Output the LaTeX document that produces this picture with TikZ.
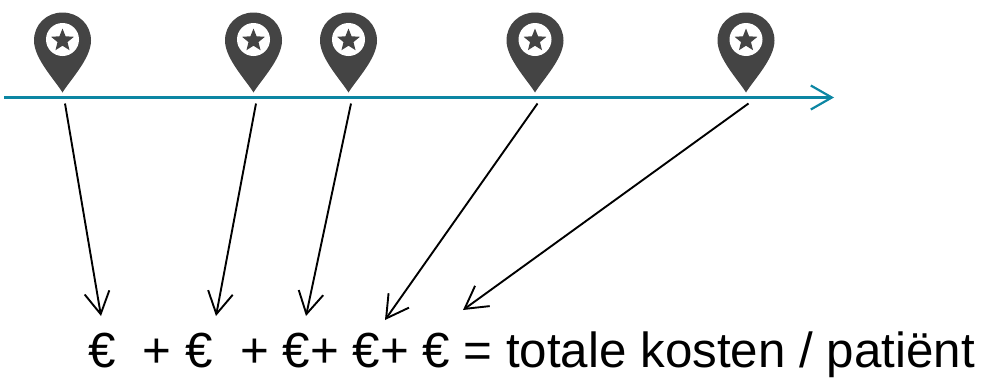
\documentclass[tikz,border=0pt]{standalone}
\usepackage{xcolor}
\usepackage{fontspec}
\setmainfont{Liberation Sans}
\usetikzlibrary{shapes.geometric, arrows.meta}
\definecolor{timeline}{HTML}{0C86A3}
\definecolor{pinfill}{HTML}{444444}
\begin{document}
\begin{tikzpicture}[
        x=1pt, y=-1pt,
        line join=round,
        timearrow/.style={draw=timeline, line width=2.4pt, -{Straight Barb[length=21pt, width=24pt, line width=2.2pt]}},
        costarrow/.style={draw=black, line width=1.9pt, -{Straight Barb[length=22pt, width=25pt, line width=1.9pt]}},
        costlabel/.style={anchor=base west, inner sep=0pt, font=\fontsize{49.3}{56}\selectfont},
        pin/.pic={
            \fill [pinfill] (0,0) .. controls (-8,-13) and (-28.5,-34) .. (-28.5,-52)
                .. controls (-28.5,-68) and (-16,-80) .. (0,-80)
                .. controls (16,-80) and (28.5,-68) .. (28.5,-52)
                .. controls (28.5,-34) and (8,-13) .. (0,0) -- cycle;
            \fill [white] (0,-53) circle [radius=16.5pt];
            \node [star, star points=5, star point ratio=2.3, fill=pinfill, inner sep=0pt, minimum size=24pt] at (0,-52) {};
            \coordinate (-foot) at (2.5,11);
        }
    ]
        \useasboundingbox (0,0) rectangle (982,378);

        % ===== pins =====
        \pic (pinA) at (62.5,92.5) {pin};
        \pic (pinB) at (253.5,92.5) {pin};
        \pic (pinC) at (348.5,92.5) {pin};
        \pic (pinD) at (535,92.5) {pin};
        \pic (pinE) at (746,92.5) {pin};

        % ===== time axis =====
        \coordinate (axisStart) at (4,97.5);
        \coordinate (axisEnd) at (834,97.5);
        \draw [timearrow] (axisStart) -- (axisEnd);

        % ===== costs =====
        \node (cost) [costlabel] at (88,367.5) {€\ \ +\ €\ \ +\ €+\ €+\ €\ =\ totale kosten / patiënt};

        \coordinate (costA) at (101,316);
        \coordinate (costB) at (216,316);
        \coordinate (costC) at (306,316);
        \coordinate (costD) at (385,320);
        \coordinate (costE) at (463,310);

        \draw [costarrow] (pinA-foot) -- (costA);
        \draw [costarrow] (pinB-foot) -- (costB);
        \draw [costarrow] (pinC-foot) -- (costC);
        \draw [costarrow] (pinD-foot) -- (costD);
        \draw [costarrow] (pinE-foot) -- (costE);
    \end{tikzpicture}
\end{document}
